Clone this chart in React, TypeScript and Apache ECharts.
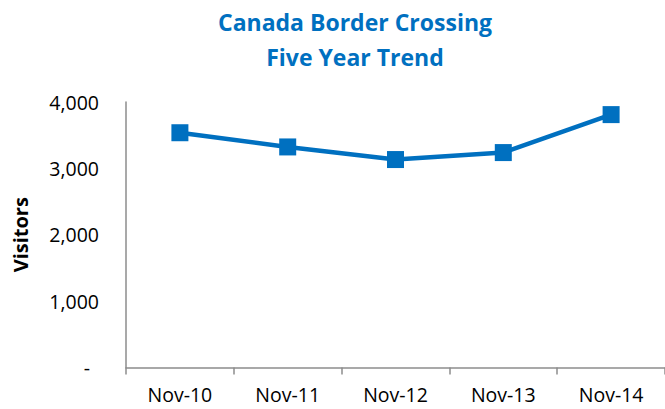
import React, { useEffect, useRef } from "react";
import * as echarts from "echarts";

const categories = ["Nov-10", "Nov-11", "Nov-12", "Nov-13", "Nov-14"];
const visitors = [3537, 3323, 3133, 3238, 3810];
const yTicks = [0, 1000, 2000, 3000, 4000];

const BLUE = "#0070C0";
const FONT = "'Open Sans', 'Liberation Sans', sans-serif";

export default function App() {
  const ref = useRef<HTMLDivElement>(null);
  useEffect(() => {
    if (!ref.current) return;
    const chart = echarts.init(ref.current, undefined, { renderer: "svg" });
    chart.setOption({
      animation: false,
      backgroundColor: "#ffffff",
      title: {
        text: "Canada Border Crossing\nFive Year Trend",
        left: 350,
        top: -1,
        textAlign: "center",
        textStyle: {
          color: BLUE,
          fontFamily: FONT,
          fontWeight: "bold",
          fontSize: 23,
          lineHeight: 35,
        },
      },
      grid: { left: 126, top: 102, bottom: 41.5, width: 542 },
      xAxis: {
        type: "category",
        data: categories,
        boundaryGap: true,
        axisLine: { lineStyle: { color: "#8c8c8c", width: 1.5 } },
        axisTick: { show: true, length: 7, lineStyle: { color: "#8c8c8c", width: 1.5 } },
        axisLabel: { color: "#000", fontFamily: FONT, fontSize: 19.5, margin: 17 },
      },
      yAxis: {
        type: "value",
        min: yTicks[0],
        max: yTicks[yTicks.length - 1],
        interval: 1000,
        name: "Visitors",
        nameLocation: "middle",
        nameGap: 96,
        nameRotate: 90,
        nameTextStyle: { color: "#000", fontFamily: FONT, fontWeight: "bold", fontSize: 20 },
        axisLine: { show: true, lineStyle: { color: "#8c8c8c", width: 1.5 } },
        axisTick: { show: false },
        splitLine: { show: false },
        axisLabel: {
          color: "#000",
          fontFamily: FONT,
          fontSize: 19.5,
          margin: 27,
          formatter: (v: number) => (v === 0 ? "{d|-}" : v.toLocaleString("en-US")),
          rich: { d: { color: "#000", fontFamily: FONT, fontSize: 19.5, padding: [0, 9, 0, 0] } },
        },
      },
      series: [
        {
          type: "line",
          data: visitors,
          symbol: "rect",
          symbolSize: 17,
          lineStyle: { color: BLUE, width: 4.5 },
          itemStyle: { color: BLUE },
        },
      ],
    });
    return () => chart.dispose();
  }, []);
  return (
    <div
      ref={ref}
      style={{ position: "absolute", left: 0, top: 0, width: 665, height: 409 }}
    />
  );
}
